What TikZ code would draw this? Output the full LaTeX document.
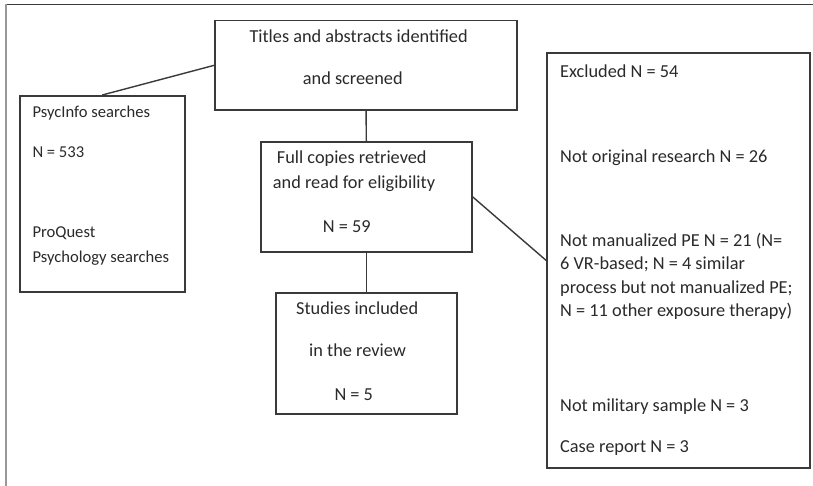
\documentclass[tikz,border=0pt]{standalone}
\usepackage{fontspec}
\setmainfont{Carlito}
\definecolor{boxline}{HTML}{3A3A3A}
\definecolor{txtcol}{HTML}{2A2A2A}
\definecolor{frametop}{HTML}{3C3C3C}
\definecolor{frameleft}{HTML}{999999}
\begin{document}
\begin{tikzpicture}[x=1pt,y=-1pt,
  box/.style={draw=boxline,line width=1.6pt,inner sep=0pt,anchor=north west},
  lbl/.style={anchor=base west,inner sep=0pt,text=txtcol,font=\fontsize{18.3}{23}\selectfont},
  slbl/.style={lbl,font=\fontsize{16.6}{21}\selectfont},
  conn/.style={draw=boxline,line width=1.4pt}]
\useasboundingbox (0,0) rectangle (813,486);
\fill[white] (0,0) rectangle (813,486);
% frame
\draw[frametop,line width=1.6pt] (4.5,4.5) -- (813,4.5);
\draw[frameleft,line width=2pt] (5.5,4) -- (5.5,486);
% boxes
\node[box,minimum width=302pt,minimum height=89.6pt] (top) at (214.3,19.7) {};
\node[box,minimum width=165pt,minimum height=196pt] (psyc) at (19,95) {};
\node[box,minimum width=211pt,minimum height=110pt] (full) at (260,141) {};
\node[box,minimum width=181pt,minimum height=121pt] (incl) at (275,292) {};
\node[box,minimum width=263pt,minimum height=415pt] (excl) at (546,52) {};
% connectors
\draw[conn] (top.west) -- (psyc.north);
\draw[conn] (top.south) -- (full.north);
\draw[conn] (full.south) -- (incl.north);
\draw[conn] (full.east) -- (excl.west);
% texts
\node[lbl] (t1) at (249.3,43) {Titles and abstracts identified};
\node[lbl] (t2) at (302.7,84.5) {and screened};
\node[slbl] (p1) at (32.3,117.5) {PsycInfo searches};
\node[slbl] (p2) at (32.3,158) {N = 533};
\node[slbl] (p3) at (32.3,238) {ProQuest};
\node[slbl] (p4) at (32.3,262) {Psychology searches};
\node[lbl] (f1) at (276.7,163.5) {Full copies retrieved};
\node[lbl] (f2) at (272.7,189) {and read for eligibility};
\node[lbl] (f3) at (322.7,233) {N = 59};
\node[lbl] (s1) at (296,314.5) {Studies included};
\node[lbl] (s2) at (309,356) {in the review};
\node[lbl] (s3) at (334.3,400) {N = 5};
\node[lbl] (e1) at (560,78) {Excluded N = 54};
\node[lbl] (e2) at (560,163) {Not original research N = 26};
\node[lbl] (e3) at (560,246.5) {Not manualized PE N = 21 (N=};
\node[lbl] (e4) at (560,269.5) {6 VR-based; N = 4 similar};
\node[lbl] (e5) at (560,293) {process but not manualized PE;};
\node[lbl] (e6) at (560,316.5) {N = 11 other exposure therapy)};
\node[lbl] (e7) at (560,411) {Not military sample N = 3};
\node[lbl] (e8) at (560,452) {Case report N = 3};
\end{tikzpicture}
\end{document}
